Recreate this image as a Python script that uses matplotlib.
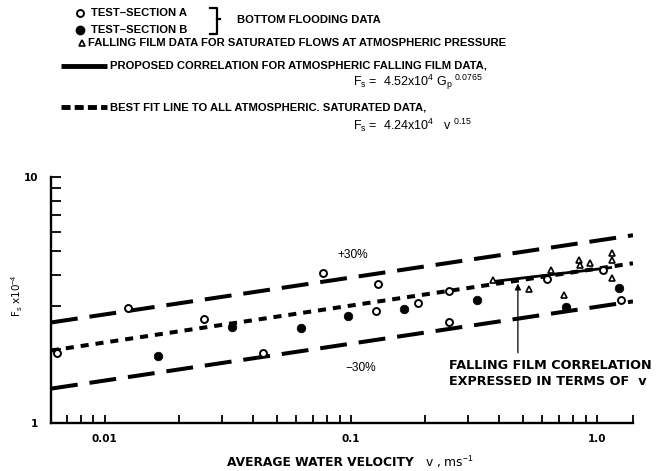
import numpy as np
import matplotlib
matplotlib.use("Agg")
import matplotlib.pyplot as plt
from matplotlib.lines import Line2D
from matplotlib.ticker import FixedLocator, FixedFormatter, NullFormatter

plt.rcParams['lines.scale_dashes'] = False
plt.rcParams['mathtext.fontset'] = 'custom'
plt.rcParams['mathtext.rm'] = 'Liberation Sans'
plt.rcParams['mathtext.it'] = 'Liberation Sans'
plt.rcParams['mathtext.bf'] = 'Liberation Sans:bold'

NARROW = ['Liberation Sans', 'DejaVu Sans']
WIDE = ['DejaVu Sans']

# test-section A (open circles), bottom flooding
v_a = [0.00638, 0.01247, 0.0252, 0.0441, 0.0769, 0.1267, 0.1283, 0.188, 0.250, 0.251, 0.626, 1.057, 1.252]
F_a = [1.92, 2.94, 2.65, 1.92, 4.08, 2.86, 3.67, 3.07, 3.44, 2.58, 3.85, 4.19, 3.16]

# test-section B (filled circles), bottom flooding
v_b = [0.0164, 0.0330, 0.0626, 0.0978, 0.165, 0.325, 0.750, 1.224]
F_b = [1.88, 2.46, 2.44, 2.72, 2.91, 3.16, 2.97, 3.53]

# falling film data, saturated, atmospheric
v_t = [0.378, 0.527, 0.650, 0.736, 0.842, 0.85, 0.933, 1.151, 1.151, 1.151]
F_t = [3.81, 3.50, 4.19, 3.31, 4.60, 4.39, 4.48, 4.92, 4.60, 3.87]

# falling film correlation written in terms of v
v_corr = [0.37, 1.15]
F_corr = [3.75, 4.29]

# best fit  Fs = 4.24e4 v^0.15  (plotted as Fs x 1e-4), +/-30 %
fit_coef = 4.24
fit_exp = 0.15
band = 0.30

xlim = (0.00605, 1.40)
ylim = (1.0, 10.0)

W, H = 660, 471
fig = plt.figure(figsize=(W / 100, H / 100), dpi=100)
ax = fig.add_axes([51 / W, (H - 423) / H, 582 / W, 246 / H])

def fx(px):
    return px / W

def fy(py):
    return 1 - py / H

ax.set_xscale('log')
ax.set_yscale('log')
ax.set_xlim(*xlim)
ax.set_ylim(*ylim)

# fit line and the +/-30 % band
v_line = np.array(xlim)
F_line = fit_coef * v_line ** fit_exp
ax.plot(v_line, F_line, color='black', lw=2.9, dashes=(5.8, 5.0))
ax.plot(v_line, F_line * (1 + band), color='black', lw=2.9, dashes=(19.4, 8.6))
ax.plot(v_line, F_line * (1 - band), color='black', lw=2.9, dashes=(19.4, 8.6))

ax.plot(v_corr, F_corr, color='black', lw=2.0, solid_capstyle='butt')

ax.plot(v_a, F_a, 'o', ms=5, mfc='white', mec='black', mew=1.4, zorder=5)
ax.plot(v_b, F_b, 'o', ms=6.2, mfc='black', mec='black', mew=0.5, zorder=5)
ax.plot(v_t, F_t, '^', ms=5, mfc='white', mec='black', mew=1.2, zorder=5)

# arrow pointing at the correlation line
ax.annotate('', xy=(0.477, 3.69), xytext=(0.477, 1.93),
            arrowprops=dict(arrowstyle='-|>', color='black', lw=0.9,
                            mutation_scale=9, shrinkA=0, shrinkB=0))
ax.text(0.251, 1.72, 'FALLING FILM CORRELATION', family=WIDE, weight='bold',
        fontsize=9.2, va='center', ha='left')
ax.text(0.251, 1.47, 'EXPRESSED IN TERMS OF  v', family=WIDE, weight='bold',
        fontsize=9.2, va='center', ha='left')

ax.text(0.088, 4.82, '+30%', family=NARROW, fontsize=8.6, va='center', ha='left')
ax.text(0.0948, 1.67, '\u221230%', family=NARROW, fontsize=8.6, va='center', ha='left')

# axes: left and bottom spines only, ticks pointing in
for s in ('top', 'right'):
    ax.spines[s].set_visible(False)
for s in ('left', 'bottom'):
    ax.spines[s].set_linewidth(1.7)

x_major = [0.01, 0.1, 1.0]
x_major_lbl = ['0.01', '0.1', '1.0']
x_minor = [m * d for d in (0.001, 0.01, 0.1) for m in range(2, 10) if xlim[0] < m * d < 1.0] + [xlim[1]]
y_major = [1, 10]
y_major_lbl = ['1', '10']
y_minor = list(range(2, 10))

ax.xaxis.set_major_locator(FixedLocator(x_major))
ax.xaxis.set_major_formatter(FixedFormatter(x_major_lbl))
ax.xaxis.set_minor_locator(FixedLocator(x_minor))
ax.xaxis.set_minor_formatter(NullFormatter())
ax.yaxis.set_major_locator(FixedLocator(y_major))
ax.yaxis.set_major_formatter(FixedFormatter(y_major_lbl))
ax.yaxis.set_minor_locator(FixedLocator(y_minor))
ax.yaxis.set_minor_formatter(NullFormatter())

ax.tick_params(axis='x', which='both', direction='in', length=6, width=1.3, pad=8)
ax.tick_params(axis='y', which='both', direction='in', length=7, width=1.3, pad=9)
for lbl in ax.get_xticklabels() + ax.get_yticklabels():
    lbl.set_family(WIDE)
    lbl.set_weight('bold')
    lbl.set_fontsize(7.5)

# axis titles
fig.text(fx(227), fy(462), 'AVERAGE WATER VELOCITY', family=WIDE, weight='bold',
         fontsize=8.8, va='center', ha='left')
fig.text(fx(425), fy(462), r'v , ms$^{-1}$', family=WIDE, fontsize=8.8, va='center', ha='left')
fig.text(fx(17), fy(296), r'F$_{\rm s}$ x10$^{-4}$', family=WIDE, fontsize=7.5,
         rotation=90, va='center', ha='center')

# key above the plot
key_font = dict(family=NARROW, weight='bold', fontsize=8.1, va='center', ha='left')
fig.add_artist(Line2D([fx(80)], [fy(13)], marker='o', ms=5, mfc='white', mec='black', mew=1.4))
fig.text(fx(91), fy(13), 'TEST\u2013SECTION A', **key_font)
fig.add_artist(Line2D([fx(80)], [fy(30)], marker='o', ms=6, mfc='black', mec='black'))
fig.text(fx(91), fy(30), 'TEST\u2013SECTION B', **key_font)

# bracket joining the two test sections
fig.add_artist(Line2D([fx(210), fx(217), fx(217), fx(210)], [fy(8), fy(8), fy(34), fy(34)],
                      color='black', lw=1.6))
fig.add_artist(Line2D([fx(217), fx(220)], [fy(19), fy(19)], color='black', lw=1.6))
fig.text(fx(237), fy(20), 'BOTTOM FLOODING DATA', **key_font)

fig.add_artist(Line2D([fx(82)], [fy(43)], marker='^', ms=5, mfc='white', mec='black', mew=1.2))
fig.text(fx(88), fy(43), 'FALLING FILM DATA FOR SATURATED FLOWS AT ATMOSPHERIC PRESSURE', **key_font)

fig.add_artist(Line2D([fx(61), fx(107)], [fy(66), fy(66)], color='black', lw=3.5, solid_capstyle='butt'))
fig.text(fx(110), fy(66), 'PROPOSED CORRELATION FOR ATMOSPHERIC FALLING FILM DATA,', **key_font)
fig.text(fx(353), fy(82), r'F$_{\rm s}$ =  4.52x10$^4$ G$_{\rm p}$$^{\ 0.0765}$',
         family=NARROW, fontsize=9, va='center', ha='left')

fig.add_artist(Line2D([fx(61), fx(107)], [fy(107), fy(107)], color='black', lw=3.5, dashes=(6.5, 3.0)))
fig.text(fx(110), fy(107), 'BEST FIT LINE TO ALL ATMOSPHERIC. SATURATED DATA,', **key_font)
fig.text(fx(353), fy(125), r'F$_{\rm s}$ =  4.24x10$^4$   v $^{0.15}$',
         family=NARROW, fontsize=9, va='center', ha='left')

fig.savefig('out.png', dpi=100)
